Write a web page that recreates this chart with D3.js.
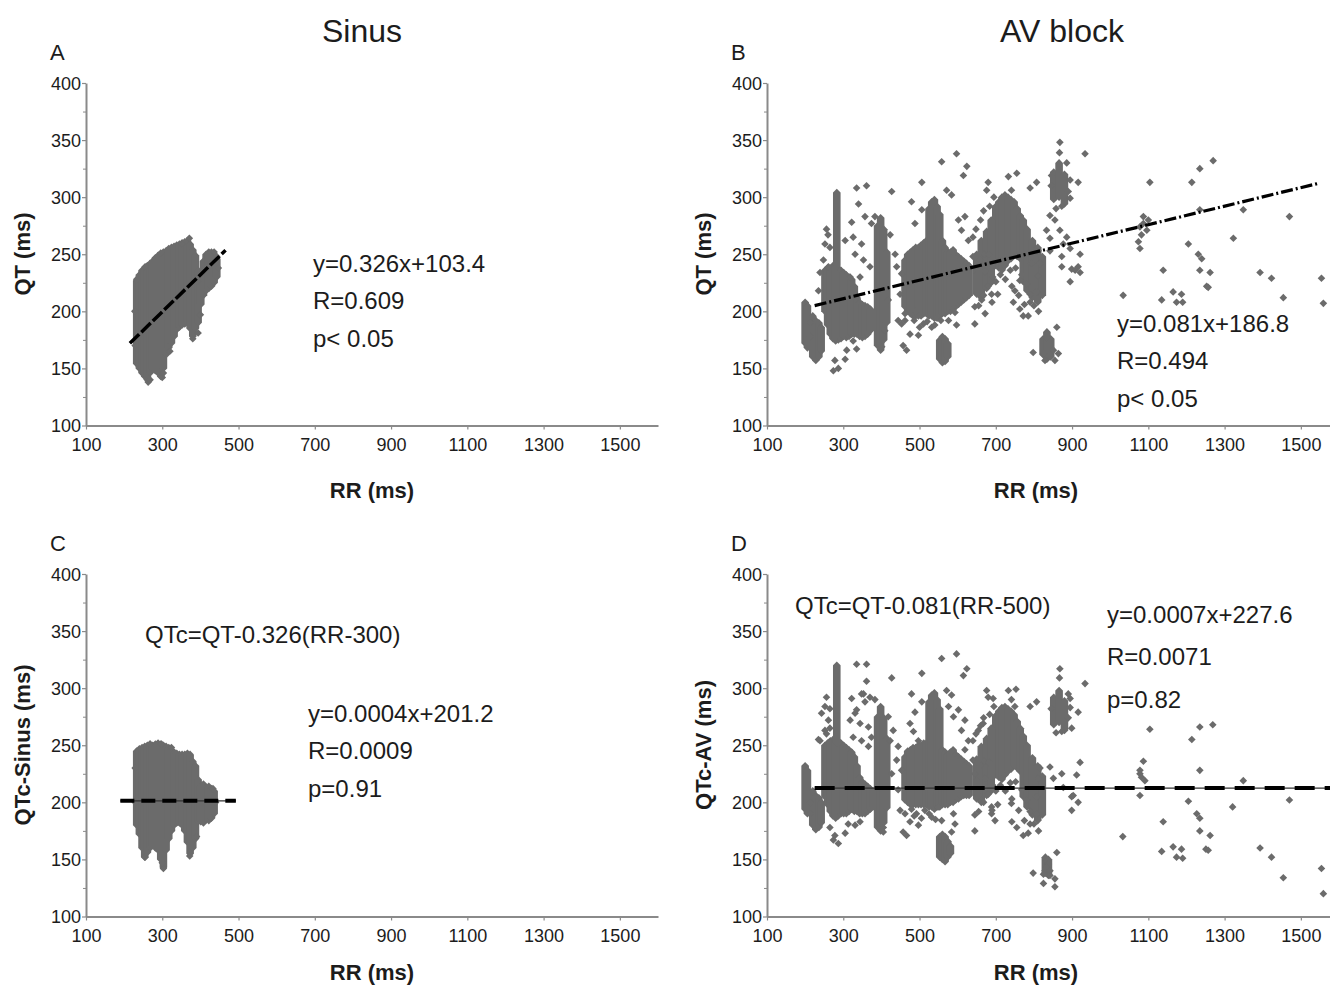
<!DOCTYPE html>
<html><head><meta charset="utf-8">
<script src="https://cdn.jsdelivr.net/npm/d3@7/dist/d3.min.js"></script>
<style>
html,body{margin:0;padding:0;background:#fff;}
svg{display:block;}
text{font-family:"Liberation Sans",Arial,sans-serif;fill:#1c1c1c;}
</style></head>
<body>
<script>
// ---------- tick labels ----------
const xTickValues = [100,300,500,700,900,1100,1300,1500];
const yTickLabels = [100,150,200,250,300,350,400];
const yMinorTicks = [125,175,225,275,325,375];

// ---------- texts ----------
const columnTitles = ["Sinus","AV block"];
const panelLetters = ["A","B","C","D"];
const yAxisTitles = ["QT (ms)","QT (ms)","QTc-Sinus (ms)","QTc-AV (ms)"];
const xAxisTitle = "RR (ms)";
const statsA = ["y=0.326x+103.4","R=0.609","p< 0.05"];
const statsB = ["y=0.081x+186.8","R=0.494","p< 0.05"];
const statsC = ["y=0.0004x+201.2","R=0.0009","p=0.91"];
const statsD = ["y=0.0007x+227.6","R=0.0071","p=0.82"];
const formulaC = "QTc=QT-0.326(RR-300)";
const formulaD = "QTc=QT-0.081(RR-500)";

// ---------- regression lines: [RR, QT] end points ----------
const lineA = [[215,172],[466,253.5]];
const lineB = [[225,205],[1545,312]];
const lineC = [[190,201.3],[493,201.3]];
const lineD = [[225,212.5],[1600,212.5]];

// ---------- dense data columns: [RR, QT low, QT high] ----------
const stripsA = [[233,154,227],[240,150,232],[247,146,236],[254,143,238],[261,140,240],[268,146,242],[275,149,244],[282,148,247],[289,146,249],[296,143,250],[303,150,252],[310,162,253],[317,168,255],[324,172,256],[331,178,257],[338,184,258],[345,186,259],[352,188,260],[359,189,261],[366,190,262],[373,185,259],[380,178,254],[387,185,249],[394,190,236],[401,206,224],[408,214,244],[415,218,250],[422,220,252],[429,222,252],[436,225,250],[443,230,246]];
const pointsA = [[233,228],[263,138],[300,142],[303,146],[371,264],[352,259],[443,248],[436,252],[400,197],[394,181],[380,176],[255,239],[296,251],[228,200],[229,170],[268,140],[320,165],[392,226],[447,238]];

const stripsC = [[233,180,245],[240,172,247],[247,160,248],[254,152,249],[261,156,250],[268,160,251],[275,162,250],[282,160,251],[289,158,252],[296,150,251],[303,143,250],[310,158,249],[317,168,248],[324,175,246],[331,180,244],[338,182,243],[345,182,242],[352,180,242],[359,175,242],[366,165,243],[373,155,242],[380,160,236],[387,168,232],[394,183,220],[401,183,215],[408,182,216],[415,185,213],[422,184,214],[429,186,212],[436,190,210]];
const pointsC = [[268,251],[298,251],[324,248],[303,142],[300,147],[372,153],[255,152],[433,212],[229,230],[229,200],[390,170],[440,200]];

const stripsB = [[200,172,208],[206,168,205],[220,160,196],[228,157,192],[236,160,190],[242,165,186],
[252,200,236],[259,188,238],[266,180,238],[273,176,240],[280,174,240],[287,175,238],[294,176,236],[301,178,234],[308,177,232],[315,178,230],[322,180,228],[329,180,222],[336,180,212],[343,178,208],[350,177,206],[357,178,205],[364,180,204],[371,183,202],
[283,240,304],
[390,170,275],[398,166,282],[406,175,272],[414,190,252],
[462,204,245],[469,200,250],[476,198,252],[483,196,254],[490,196,256],[497,196,256],[504,196,258],[511,198,260],[518,198,262],[525,196,290],[532,196,296],[539,194,298],[546,194,292],[553,196,285],[560,198,262],[567,198,256],[574,200,252],[581,200,252],[588,202,254],[595,204,250],[602,206,248],[609,208,246],[616,210,244],[623,212,242],[630,214,240],
[553,158,175],[560,155,178],[567,156,176],[574,160,172],
[700,240,292],[708,238,296],[716,236,300],[724,240,302],[732,244,300],[740,246,298],[748,250,296],[756,248,290],[764,246,284],
[650,215,250],[662,212,262],[676,220,270],[688,225,280],[772,226,280],[782,218,272],[796,212,262],[810,208,256],[822,214,248],
[852,298,322],[866,300,330],[880,294,320],
[824,162,176],[834,158,182],[844,160,176]];
const pointsB = [[256,272],[260,267],[252,259],[265,256],[248,245],[261,239],[322,278],[340,294],[361,310],[335,308],[357,283],[374,277],[383,283],[305,262],[326,265],[348,259],[331,250],[353,245],[370,239],[318,230],[344,230],[239,234],[235,218],[213,190],[213,178],
[274,148],[287,150],[278,157],[305,158],[309,166],[335,167],[326,174],[401,169],[409,183],
[423,267],[427,305],[436,250],[440,239],[449,215],[453,233],[418,210],[444,192],[453,189],[462,198],
[479,296],[506,313],[488,277],[506,289],[558,331],[597,338],[624,327],[615,319],[571,306],[584,302],[619,283],[610,271],[628,262],[602,280],
[462,192],[475,180],[457,170],[466,166],[497,179],[510,189],[532,186],[576,192],[593,199],[597,188],[645,189],[486,192],[500,186],[520,191],[540,188],[556,192],[490,200],
[645,204],[663,210],[672,198],[689,215],[680,313],[676,306],[733,318],[741,306],
[640,265],[648,272],[660,280],[668,288],[684,292],[695,300],[658,245],[670,250],[640,248],[682,250],
[655,205],[668,214],[680,222],[692,230],[700,226],[712,232],[725,228],[738,236],[752,238],[768,232],[780,224],[790,215],[800,205],[812,200],[650,232],[672,235],[690,208],[705,215],[760,214],[775,206],[785,196],[742,222],
[845,310],[890,305],[858,290],[873,292],[895,315],
[755,321],[790,308],[807,313],[846,319],[868,348],[867,339],[934,338],[916,313],[886,330],[895,299],[842,284],[855,280],[833,271],[868,271],[886,265],[842,264],[877,259],[895,255],[921,250],[916,239],[873,248],[899,237],[908,236],[921,234],[873,239],[842,253],[895,226],[763,227],[750,218],[746,208],[763,202],[772,196],[790,208],[807,217],[811,231],[816,242],[811,253],[794,242],
[798,164],[825,163],[829,157],[855,157],[860,186],[864,163],[833,177],[851,166],
[1034,214],[1078,274],[1082,267],[1074,261],[1096,271],[1087,277],[1078,255],[1100,280],[1087,283],[1104,313],[1139,236],[1135,210],[1165,217],[1187,215],[1174,208],[1190,208],[1205,259],[1214,313],[1235,325],[1270,332],[1231,250],[1240,246],[1235,236],[1262,234],[1253,222],[1257,221],[1235,289],[1323,264],[1349,289],[1393,234],[1423,229],[1454,212],[1470,283],[1554,229],[1559,207]];

const stripsD = [[200,194,232],[206,190,228],[220,180,210],[228,176,206],[236,178,204],[242,182,200],
[252,205,250],[259,198,252],[266,192,254],[273,188,255],[280,186,256],[287,188,254],[294,190,252],[301,190,250],[308,190,248],[315,192,246],[322,194,244],[329,192,240],[336,192,232],[343,190,222],[350,190,218],[357,190,216],[364,192,214],[371,194,212],[378,196,210],
[283,252,320],
[390,178,275],[398,175,284],[406,182,274],[414,195,256],
[462,202,240],[469,200,245],[476,198,246],[483,198,248],[490,198,248],[497,198,250],[504,198,250],[511,198,252],[518,198,252],[525,196,288],[532,196,294],[539,194,296],[546,196,290],[553,196,282],[560,198,246],[567,198,244],[574,198,242],[581,200,244],[588,200,246],[595,202,242],[602,203,240],[609,205,238],[616,206,236],[623,206,234],[630,206,232],
[553,152,170],[560,150,172],[567,148,170],[574,152,166],[581,155,162],
[700,224,276],[708,222,280],[716,220,283],[724,224,284],[732,227,282],[740,229,280],[748,232,277],[756,230,271],[764,227,265],
[650,203,238],[662,200,249],[676,206,256],[688,210,265],[772,205,258],[782,196,250],[796,189,239],[810,184,232],[822,189,223],
[852,268,292],[866,270,298],[880,263,289],
[830,138,152],[838,136,150]];
const pointsD = [[256,292],[252,284],[265,282],[261,272],[243,278],[252,263],[239,254],[235,255],[265,265],[256,260],[213,200],[213,190],
[322,291],[331,278],[318,272],[335,281],[353,295],[357,288],[370,292],[383,290],[344,269],[366,266],[374,257],[348,254],[326,257],[366,249],[335,321],[361,321],[361,306],[348,295],
[274,167],[287,164],[278,171],[305,173],[331,180],[265,178],[313,181],[344,183],
[427,309],[418,275],[431,263],[423,254],[444,249],[440,237],[453,228],[427,225],[444,211],[449,193],[462,190],[457,174],[466,171],[405,178],[405,174],[479,194],[475,183],[497,180],[492,190],[514,193],[532,187],[549,196],[558,184],[589,190],[593,181],[584,174],[645,189],[645,175],[486,188],[505,186],[525,190],[542,185],
[479,295],[506,313],[488,279],[475,269],[506,288],[484,262],[497,254],[558,326],[597,330],[624,317],[615,311],[571,298],[584,294],[576,284],[589,275],[619,272],[610,263],[628,254],[602,281],[619,246],
[676,298],[680,292],[693,291],[654,263],[667,269],[733,298],[741,290],[750,284],[650,208],[663,202],[689,196],[698,184],[689,190],[741,199],[645,225],
[640,254],[648,260],[660,267],[668,274],[684,277],[695,284],[658,232],[670,236],[640,237],[682,235],
[655,192],[668,200],[680,207],[692,215],[700,210],[712,215],[725,210],[738,217],[752,218],[768,211],[780,202],[790,192],[800,181],[812,175],[650,219],[672,221],[690,193],[705,198],[760,193],[775,184],[785,173],[742,203],
[845,282],[890,274],[858,261],[873,262],[895,283],
[868,317],[867,309],[934,304],[753,299],[807,288],[790,284],[895,291],[890,295],[916,279],[899,265],[921,235],[912,224],[899,205],[903,206],[916,200],[899,193],[873,225],[877,213],[851,221],[842,231],[816,230],[811,221],[807,205],[807,190],[790,181],[772,171],[755,178],[742,183],
[833,149],[838,146],[829,140],[825,137],[842,136],[855,133],[825,129],[855,126],[798,138],[860,156],[833,143],[842,140],
[1033,170],[1078,206],[1087,236],[1078,225],[1082,222],[1091,219],[1078,228],[1104,264],[1139,183],[1135,157],[1165,161],[1187,159],[1174,152],[1190,151],[1205,201],[1214,255],[1235,266],[1269,268],[1235,228],[1227,190],[1235,186],[1235,175],[1262,171],[1251,159],[1257,158],[1321,196],[1349,219],[1393,160],[1423,152],[1454,134],[1470,202],[1554,142],[1559,120]];

// ---------- drawing ----------
const W = 1330, H = 987;
const svg = d3.select("body").append("svg").attr("width", W).attr("height", H);
const FONT = '"Liberation Sans",Arial,sans-serif';
const DOT = "#6b6b6b", AXIS = "#8a8a8a";

const panels = [
  {strips:stripsA, points:pointsA, line:lineA, lineStyle:"A", x0:86, yTop:83, yBot:425.5, letter:0, ytitle:0, ytx:22, yty:254, xtx:372, xty:490, stats:statsA, sx:313, sy:[263,300,338]},
  {strips:stripsB, points:pointsB, line:lineB, lineStyle:"B", x0:767, yTop:83, yBot:425.5, letter:1, ytitle:1, ytx:703, yty:254, xtx:1036, xty:490, stats:statsB, sx:1117, sy:[323,360,398]},
  {strips:stripsC, points:pointsC, line:lineC, lineStyle:"C", x0:86, yTop:574, yBot:916.5, letter:2, ytitle:2, ytx:22, yty:745, xtx:372, xty:972, stats:statsC, sx:308, sy:[713,750,788], formula:formulaC, fx:145, fy:634},
  {strips:stripsD, points:pointsD, line:lineD, lineStyle:"D", x0:767, yTop:574, yBot:916.5, letter:3, ytitle:3, ytx:703, yty:745, xtx:1036, xty:972, stats:statsD, sx:1107, sy:[614,656,699], formula:formulaD, fx:795, fy:605}
];

const R = 3.8;
const diamond = r => `M0,${-r}L${r},0L0,${r}L${-r},0Z`;
// a column of stacked diamonds: pointed top and bottom
const columnPath = (cx, yHi, yLo) =>
  `M${cx},${yHi - R}L${cx + R},${yHi}L${cx + R},${yLo}L${cx},${yLo + R}L${cx - R},${yLo}L${cx - R},${yHi}Z`;

panels.forEach(p => {
  const g = svg.append("g");
  const x = d3.scaleLinear().domain([100,1600]).range([p.x0, p.x0 + 572]);
  const y = d3.scaleLinear().domain([100,400]).range([p.yBot, p.yTop]);

  // x axis
  const xa = g.append("g").attr("transform", `translate(0,${p.yBot})`)
    .call(d3.axisBottom(x).tickValues(xTickValues).tickSize(4).tickSizeOuter(0).tickFormat(d3.format("d")));
  xa.select(".domain").attr("stroke", AXIS).attr("stroke-width", 2);
  xa.selectAll(".tick line").attr("stroke", AXIS).attr("stroke-width", 1.2);
  xa.selectAll(".tick text").attr("y", 19).attr("dy", "0.36em")
    .attr("font-size", 18).attr("font-family", FONT).attr("fill", "#1c1c1c");

  // y axis (labelled ticks + minor ticks)
  const ya = g.append("g").attr("transform", `translate(${p.x0},0)`)
    .call(d3.axisLeft(y).tickValues(yTickLabels).tickSize(4).tickSizeOuter(0).tickFormat(d3.format("d")));
  ya.select(".domain").attr("stroke", AXIS).attr("stroke-width", 2);
  ya.selectAll(".tick line").attr("stroke", AXIS).attr("stroke-width", 1.2);
  ya.selectAll(".tick text").attr("x", -5).attr("dy", "0.36em")
    .attr("font-size", 18).attr("font-family", FONT).attr("fill", "#1c1c1c");
  const ym = g.append("g").attr("transform", `translate(${p.x0},0)`)
    .call(d3.axisLeft(y).tickValues(yMinorTicks).tickSize(3).tickFormat(""));
  ym.select(".domain").remove();
  ym.selectAll(".tick line").attr("stroke", AXIS).attr("stroke-width", 1);

  // dense columns of points
  g.append("g").selectAll("path").data(p.strips).join("path")
    .attr("d", d => columnPath(x(d[0]), y(d[2]), y(d[1])))
    .attr("fill", DOT);

  // individual points
  g.append("g").selectAll("path").data(p.points).join("path")
    .attr("transform", d => `translate(${x(d[0])},${y(d[1])})`)
    .attr("d", diamond(R)).attr("fill", DOT);

  // regression line
  const lg = d3.line().x(d => x(d[0])).y(d => y(d[1]));
  if (p.lineStyle === "A") {
    g.append("path").datum(p.line).attr("d", lg).attr("stroke", "#000").attr("stroke-width", 3.5)
      .attr("fill", "none").attr("stroke-dasharray", "13,3");
  } else if (p.lineStyle === "B") {
    g.append("path").datum(p.line).attr("d", lg).attr("stroke", "#000").attr("stroke-width", 3.2)
      .attr("fill", "none").attr("stroke-dasharray", "12,3,2,3");
  } else {
    g.append("path").datum(p.line).attr("d", lg).attr("stroke", "#333").attr("stroke-width", 1.3).attr("fill", "none");
    g.append("path").datum(p.line).attr("d", lg).attr("stroke", "#000").attr("stroke-width", 4)
      .attr("fill", "none").attr("stroke-dasharray", p.lineStyle === "C" ? "14,7" : "20,10");
  }

  // panel letter
  g.append("text").attr("x", p.x0 - 36).attr("y", p.yTop - 31).attr("dy", "0.36em")
    .attr("font-size", 22).text(panelLetters[p.letter]);

  // axis titles
  g.append("text").attr("transform", `translate(${p.ytx},${p.yty}) rotate(-90)`)
    .attr("text-anchor", "middle").attr("dy", "0.36em").attr("font-size", 22).attr("font-weight", "bold")
    .text(yAxisTitles[p.ytitle]);
  g.append("text").attr("x", p.xtx).attr("y", p.xty).attr("text-anchor", "middle").attr("dy", "0.36em")
    .attr("font-size", 22).attr("font-weight", "bold").text(xAxisTitle);

  // stats
  p.stats.forEach((s, i) => {
    g.append("text").attr("x", p.sx).attr("y", p.sy[i]).attr("dy", "0.36em").attr("font-size", 24).text(s);
  });
  if (p.formula) {
    g.append("text").attr("x", p.fx).attr("y", p.fy).attr("dy", "0.36em").attr("font-size", 24).text(p.formula);
  }
});

// column titles
svg.append("text").attr("x", 362).attr("y", 30).attr("dy", "0.36em").attr("text-anchor", "middle")
  .attr("font-size", 32).text(columnTitles[0]);
svg.append("text").attr("x", 1062).attr("y", 30).attr("dy", "0.36em").attr("text-anchor", "middle")
  .attr("font-size", 32).text(columnTitles[1]);
</script>
</body></html>
